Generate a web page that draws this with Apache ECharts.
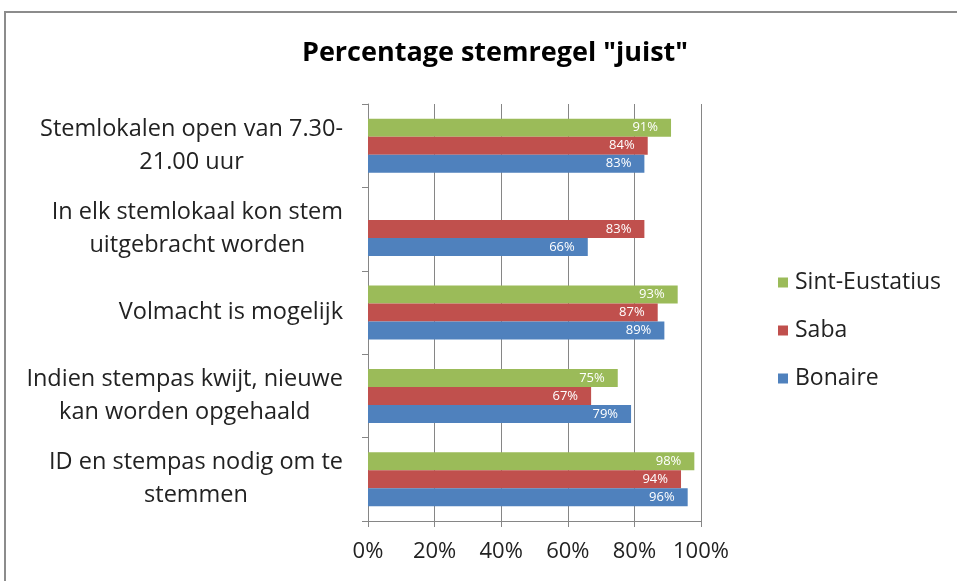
<!DOCTYPE html>
<html>
<head>
<meta charset="utf-8">
<script src="https://cdn.jsdelivr.net/npm/echarts@6/dist/echarts.min.js"></script>
<style>
  html, body { margin: 0; padding: 0; background: #fff; }
  #chart { width: 957px; height: 581px; }
</style>
</head>
<body>
<div id="chart"></div>
<script>
// categories, top to bottom
const categories = [
  'Stemlokalen open van 7.30-\n21.00 uur',
  'In elk stemlokaal kon stem\nuitgebracht worden',
  'Volmacht is mogelijk',
  'Indien stempas kwijt, nieuwe\nkan worden opgehaald',
  'ID en stempas nodig om te\nstemmen'
];
const bonaire = [83, 66, 89, 79, 96];
const saba = [84, 83, 87, 67, 94];
const sintEustatius = [91, null, 93, 75, 98];
const xTicks = [0, 20, 40, 60, 80, 100];

const font = '"Open Sans", "Noto Sans", sans-serif';
const chart = echarts.init(document.getElementById('chart'));

function barSeries(name, data, color) {
  return {
    name: name,
    type: 'bar',
    data: data,
    barWidth: 18,
    barGap: '0%',
    itemStyle: { color: color },
    label: {
      show: true,
      position: 'insideRight',
      distance: 13,
      color: '#fff',
      fontFamily: font,
      fontSize: 13,
      formatter: p => p.value + '%'
    }
  };
}

chart.setOption({
  animation: false,
  graphic: [{
    type: 'rect',
    shape: { x: 5, y: 12, width: 1000, height: 700 },
    style: { fill: 'none', stroke: '#8c8c8c', lineWidth: 2 }
  }],
  title: {
    text: 'Percentage stemregel "juist"',
    left: 490,
    top: 35,
    textAlign: 'center',
    textStyle: { fontFamily: font, fontSize: 27, fontWeight: 'bold', color: '#000' }
  },
  legend: {
    orient: 'vertical',
    left: 773,
    top: 266,
    itemWidth: 10,
    itemHeight: 10,
    itemGap: 25,
    icon: 'rect',
    data: ['Sint-Eustatius', 'Saba', 'Bonaire'],
    textStyle: { fontFamily: font, fontSize: 23, color: '#222', padding: [0, 0, 0, 2] }
  },
  grid: { left: 368, right: 256, top: 104, bottom: 60 },
  xAxis: {
    type: 'value',
    min: 0,
    max: 100,
    interval: 20,
    axisLine: { show: true, lineStyle: { color: '#868686' } },
    axisTick: { show: true, length: 6, lineStyle: { color: '#868686' } },
    splitLine: { show: true, lineStyle: { color: '#868686' } },
    axisLabel: {
      margin: 20,
      fontFamily: font,
      fontSize: 22,
      color: '#222',
      formatter: v => xTicks.includes(v) ? v + '%' : ''
    }
  },
  yAxis: {
    type: 'category',
    inverse: true,
    data: categories,
    axisLine: { show: true, lineStyle: { color: '#868686' } },
    axisTick: { show: true, length: 6, lineStyle: { color: '#868686' } },
    axisLabel: {
      margin: 25,
      fontFamily: font,
      fontSize: 23.5,
      color: '#222',
      lineHeight: 33,
      formatter: v => v.split('\n').map(s => '{c|' + s + '}').join('\n'),
      rich: { c: { align: 'center', fontFamily: font, fontSize: 23.5, color: '#222', lineHeight: 33 } }
    }
  },
  // first series sits on top of each group
  series: [
    barSeries('Sint-Eustatius', sintEustatius, '#9BBB59'),
    barSeries('Saba', saba, '#C0504D'),
    barSeries('Bonaire', bonaire, '#4F81BD')
  ]
});
</script>
</body>
</html>
